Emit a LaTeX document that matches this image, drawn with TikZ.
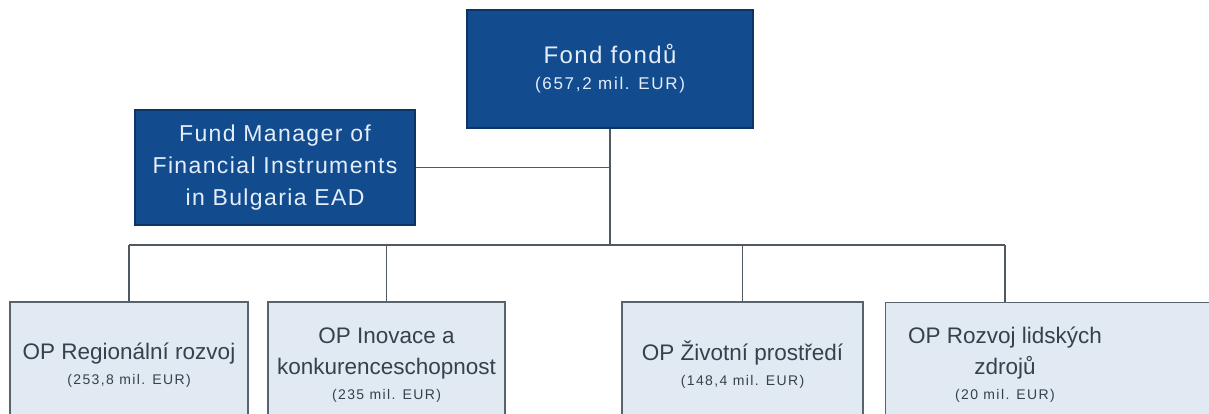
\documentclass[tikz,border=0pt]{standalone}
\usepackage{fontspec}
\setmainfont{Liberation Sans}
\usepackage{tikz}
\usetikzlibrary{calc}
\definecolor{fundBlue}{HTML}{134C8E}
\definecolor{fundBorder}{HTML}{0C3566}
\definecolor{opFill}{HTML}{E1EAF3}
\definecolor{opBorder}{HTML}{59636C}
\definecolor{lineGray}{HTML}{4F5961}
\definecolor{lightText}{HTML}{E4EEFB}
\definecolor{darkText}{HTML}{36414B}
\newcommand{\eur}[2][14]{{\fontsize{#1}{#1}\selectfont\addfontfeature{LetterSpace=10}#2}}
\tikzstyle{fundBox}=[rectangle, fill=fundBlue, draw=fundBorder, line width=1.5pt, text=lightText, align=center, inner sep=0pt, font=\fontsize{23}{32}\selectfont\addfontfeature{LetterSpace=6}]
\tikzstyle{opBox}=[rectangle, fill=opFill, draw=opBorder, line width=1.2pt, text=darkText, align=center, inner sep=0pt, minimum height=126pt, font=\fontsize{22.5}{31}\selectfont]
\tikzstyle{opText}=[text=darkText, align=center, inner sep=0pt, font=\fontsize{22.5}{31}\selectfont]
\tikzstyle{link}=[draw=lineGray, line width=1.1pt]

\begin{document}
\begin{tikzpicture}[x=1pt, y=-1pt]
      \useasboundingbox (0,0) rectangle (1209,414);
      \clip (0,0) rectangle (1209,414);
      %%%%%%%%%%%% Fond fondu
      \node(fof) [fundBox, minimum width=286pt, minimum height=118pt] at (610, 69){{\fontsize{24}{32}\selectfont Fond fondů}\\[-6pt]\eur[17]{(657,2 mil. EUR)}};
      \node(fm) [fundBox, minimum width=280pt, minimum height=115pt] at (275, 167.5){Fund Manager of\\Financial Instruments\\in Bulgaria EAD};
      %%%%%%%%%%%% OP
      \node(op1) [opBox, minimum width=238pt] at (129, 365){OP Regionální rozvoj\\[-6pt]\eur{(253,8 mil. EUR)}};
      \node(op2) [opBox, minimum width=237pt] at (386.5, 365){OP Inovace a\\konkurenceschopnost\\[-6pt]\eur{(235 mil. EUR)}};
      \node(op3) [opBox, minimum width=241pt] at (742.5, 365){OP Životní prostředí\\[-6pt]\eur{(148,4 mil. EUR)}};
      \node(op4) [opBox, minimum width=345pt, anchor=north west] at (885, 302){};
      \node(op4t) [opText] at (1005, 365){OP Rozvoj lidských\\zdrojů\\[-6pt]\eur{(20 mil. EUR)}};
      %%%%%%%%%%%% lines
      \coordinate (busL) at (129, 245);
      \coordinate (busR) at (1005, 245);
      \draw[link] (fof.south) to (fof.south |- busL);
      \draw[link] (fm.east) to (fm.east -| fof.south);
      \draw[link] (busL) to (busR);
      \draw[link] (busL) to (op1.north);
      \draw[link] (op2.north |- busL) to (op2.north);
      \draw[link] (op3.north |- busL) to (op3.north);
      \draw[link] (busR) to (busR |- op4.north);
    \end{tikzpicture}
\end{document}
